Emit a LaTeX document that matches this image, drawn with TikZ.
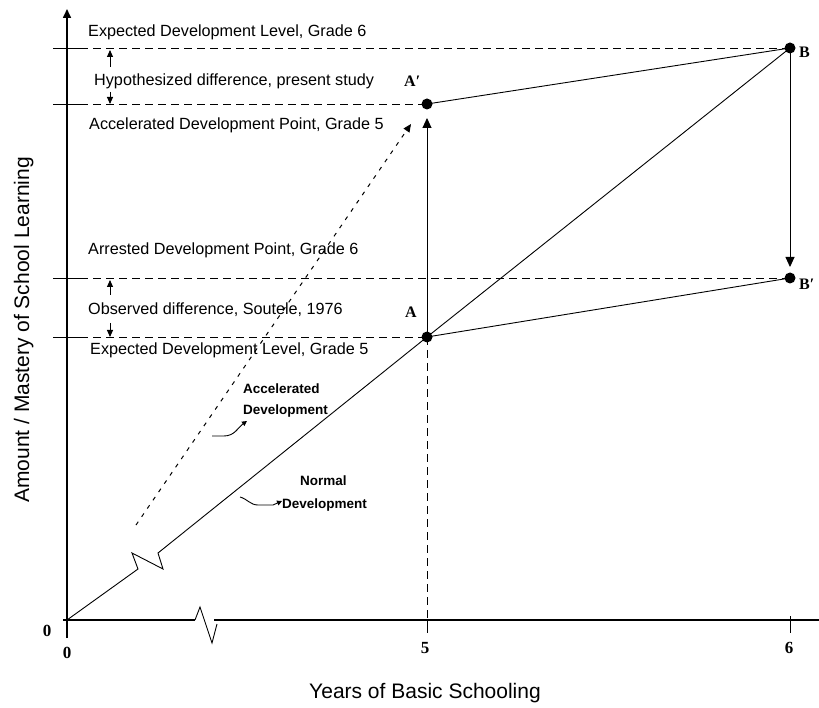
\documentclass[tikz,border=0pt]{standalone}
\usepackage{fontspec}
\setmainfont{Liberation Serif}
\setsansfont{Liberation Sans}
\usetikzlibrary{arrows.meta}
\newcommand{\mypr}{\symbol{"2032}}
\begin{document}
\begin{tikzpicture}[x=1pt,y=-1pt,
  lbl/.style={font=\sffamily\fontsize{16.2}{16}\selectfont, anchor=base west, inner sep=0pt},
  smalllbl/.style={font=\sffamily\bfseries\fontsize{13.5}{21}\selectfont, anchor=base west, inner sep=0pt},
  ptlbl/.style={font=\rmfamily\bfseries\fontsize{16}{16}\selectfont, anchor=base west, inner sep=0pt},
  ticklbl/.style={font=\rmfamily\bfseries\fontsize{17}{17}\selectfont, anchor=base, inner sep=0pt},
  axislbl/.style={font=\sffamily\fontsize{21}{21}\selectfont, anchor=base, inner sep=0pt},
  dot/.style={circle, fill=black, inner sep=0pt, minimum size=11pt},
  axisline/.style={line width=1.6pt},
  thin/.style={line width=0.9pt},
  hdash/.style={line width=0.9pt, dash pattern=on 8pt off 5pt},
  accdash/.style={line width=1pt, dash pattern=on 4pt off 6pt},
  bigarr/.style={-{Triangle[length=10pt,width=9pt]}},
  smallarr/.style={-{Triangle[length=7pt,width=6pt]}},
  tinyarr/.style={-{Triangle[length=5pt,width=5pt]}}
]
\useasboundingbox (0,0) rectangle (819,708);

% main points
\coordinate (O) at (67,620);
\node[dot] (A) at (427,337) {};
\node[dot] (Ap) at (427,104) {};
\node[dot] (B) at (790,48) {};
\node[dot] (Bp) at (790,278) {};

% axes
\coordinate (ybot) at (67,638);
\coordinate (ytop) at (67,9);
\draw[axisline, -{Triangle[length=9pt,width=8pt]}] (ybot) -- (ytop);
\coordinate (xl) at (63,620);
\coordinate (xb1) at (195,620);
\coordinate (xb2) at (214,620);
\coordinate (xr) at (819,620);
\draw[axisline] (xl) -- (xb1);
\draw[axisline] (xb2) -- (xr);
\draw[thin] (xb1) -- (200,607) -- (212,643) -- (217,624);

% ticks on x axis
\coordinate (t5a) at (427,620); \coordinate (t5b) at (427,633);
\coordinate (t6a) at (790,616); \coordinate (t6b) at (790,633);
\draw[thin] (t5a) -- (t5b);
\draw[thin] (t6a) -- (t6b);

% level lines
\foreach \n/\y in {l6/48, la/104, lr/278, l5/337}{
  \coordinate (\n s) at (53,\y);
  \coordinate (\n e) at (80,\y);
  \draw[thin] (\n s) -- (\n e);
}
\draw[hdash] (l6e) -- (B.center);
\draw[hdash] (lae) -- (Ap.center);
\draw[hdash] (lre) -- (Bp.center);
\draw[hdash] (l5e) -- (A.center);
\draw[hdash] (A.center) -- (t5a);

% solid connections
\draw[thin] (Ap.center) -- (B.center);
\draw[thin] (A.center) -- (Bp.center);
\coordinate (tipAp) at (427,118);
\coordinate (tipBp) at (790,267);
\draw[thin, bigarr] (A.center) -- (tipAp);
\draw[thin, bigarr] (B.center) -- (tipBp);

% normal development diagonal with break
\draw[thin] (O) -- (138,569) -- (132,553) -- (163,569) -- (158,553) -- (A.center) -- (B.center);

% accelerated development dashed line
\coordinate (accs) at (136,525);
\coordinate (acce) at (411,124);
\draw[accdash, -{Triangle[length=8pt,width=7pt]}] (accs) -- (acce);

% difference arrows
\coordinate (h1) at (110,67); \coordinate (h1t) at (110,50);
\coordinate (h2) at (110,92); \coordinate (h2t) at (110,104);
\coordinate (o1) at (110,295); \coordinate (o1t) at (110,280);
\coordinate (o2) at (110,323); \coordinate (o2t) at (110,337);
\draw[thin, smallarr] (h1) -- (h1t);
\draw[thin, smallarr] (h2) -- (h2t);
\draw[thin, smallarr] (o1) -- (o1t);
\draw[thin, smallarr] (o2) -- (o2t);

% left labels
\node[lbl] (t1) at (88,37) {Expected Development Level, Grade 6};
\node[lbl] (t2) at (94,86) {Hypothesized difference, present study};
\node[lbl] (t3) at (89,130) {Accelerated Development Point, Grade 5};
\node[lbl] (t4) at (88,255) {Arrested Development Point, Grade 6};
\node[lbl] (t5) at (88,315) {Observed difference, Soutele, 1976};
\node[lbl] (t6) at (90,355) {Expected Development Level, Grade 5};

% point labels
\node[ptlbl] (lAp) at (404,87) {A\mypr};
\node[ptlbl] (lA) at (405,318) {A};
\node[ptlbl] (lB) at (799,58) {B};
\node[ptlbl] (lBp) at (799,290) {B\mypr};

% curve labels
\node[smalllbl] (acc1) at (243,393) {Accelerated};
\node[smalllbl] (acc2) at (243,414) {Development};
\node[smalllbl] (nor1) at (300,485) {Normal};
\node[smalllbl] (nor2) at (282,508) {Development};
\coordinate (accl1) at (212,436);
\coordinate (accl2) at (247,421);
\draw[thin, tinyarr] (accl1) -- (224,436) to[out=0,in=215] (accl2);
\coordinate (norl1) at (240,497);
\coordinate (norl2) at (282,501);
\draw[thin, tinyarr] (norl1) to[out=-15,in=180] (258,505) -- (273,505) -- (norl2);

% tick labels
\node[ticklbl] (z1) at (47,636) {0};
\node[ticklbl] (z2) at (67,658) {0};
\node[ticklbl] (f5) at (425,653) {5};
\node[ticklbl] (f6) at (789,653) {6};

% axis labels
\node[axislbl] (xlab) at (425,698) {Years of Basic Schooling};
\node[axislbl, rotate=90] (ylab) at (29,330) {Amount / Mastery of School Learning};
\end{tikzpicture}
\end{document}
